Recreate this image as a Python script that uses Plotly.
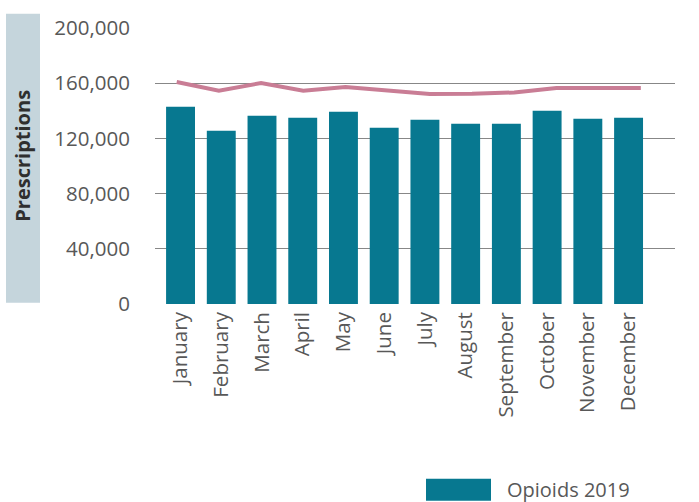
import plotly.graph_objects as go

months = ["January", "February", "March", "April", "May", "June", "July",
          "August", "September", "October", "November", "December"]
opioids_2019 = [143000, 125600, 136400, 135000, 139300, 127800, 133600,
                130700, 130700, 140100, 134300, 135000]
trend_line = [160900, 154600, 160100, 154600, 157200, 154800, 152200,
              152400, 153300, 156500, 156500, 156500]
y_ticks = [0, 40000, 80000, 120000, 160000, 200000]

BAR_COLOR = "#077890"
LINE_COLOR = "#c97d95"
TEXT_COLOR = "#585858"
FONT = "Open Sans"

fig = go.Figure()

fig.add_trace(go.Bar(
    x=months, y=opioids_2019, name="Opioids 2019",
    marker=dict(color=BAR_COLOR, line=dict(width=0)),
    width=0.71, showlegend=False,
))

fig.add_trace(go.Scatter(
    x=months, y=trend_line, mode="lines", xaxis="x2",
    line=dict(color=LINE_COLOR, width=4), showlegend=False,
))

fig.update_layout(
    width=699, height=502,
    margin=dict(l=155, r=24, t=28, b=198),
    paper_bgcolor="white", plot_bgcolor="white",
    font=dict(family=FONT, color=TEXT_COLOR),
    bargap=0.29,
    xaxis=dict(
        type="category", range=[-0.627, 12.14],
        tickangle=-90, tickfont=dict(size=20.5, color=TEXT_COLOR),
        showgrid=False, showline=False, zeroline=False, ticks="",
        ticklabelstandoff=3,
    ),
    xaxis2=dict(
        type="category", overlaying="x", range=[-0.514, 11.81],
        visible=False,
    ),
    yaxis=dict(
        range=[0, 200000], tickvals=y_ticks,
        ticktext=[f"{v:,}" for v in y_ticks],
        tickfont=dict(size=20.5, color=TEXT_COLOR),
        showgrid=True, gridcolor="#878787", gridwidth=1.4,
        zeroline=False, showline=False, ticks="",
        ticklabelstandoff=24,
    ),
    shapes=[
        # shaded band behind the y-axis title
        dict(type="rect", xref="paper", yref="paper",
             x0=-149 / 520, x1=-115 / 520, y0=(304.3 - 303) / 276,
             y1=(304.3 - 14) / 276,
             fillcolor="#c5d5dc", line=dict(width=0), layer="below"),
        # legend swatch
        dict(type="rect", xref="paper", yref="paper",
             x0=(426 - 155) / 520, x1=(491 - 155) / 520,
             y0=-(501 - 304.3) / 276, y1=-(479 - 304.3) / 276,
             fillcolor=BAR_COLOR, line=dict(width=0)),
    ],
    annotations=[
        dict(text="<b>Prescriptions</b>", xref="paper", yref="paper",
             x=(23 - 155) / 520, y=(304.3 - 156) / 276, textangle=-90,
             showarrow=False, font=dict(size=20, color="#2f2f2f"),
             xanchor="center", yanchor="middle"),
        dict(text="Opioids 2019", xref="paper", yref="paper",
             x=(505 - 155) / 520, y=-(490 - 304.3) / 276,
             showarrow=False, font=dict(size=20, color=TEXT_COLOR),
             xanchor="left", yanchor="middle"),
    ],
)

fig.write_html("out.html")
